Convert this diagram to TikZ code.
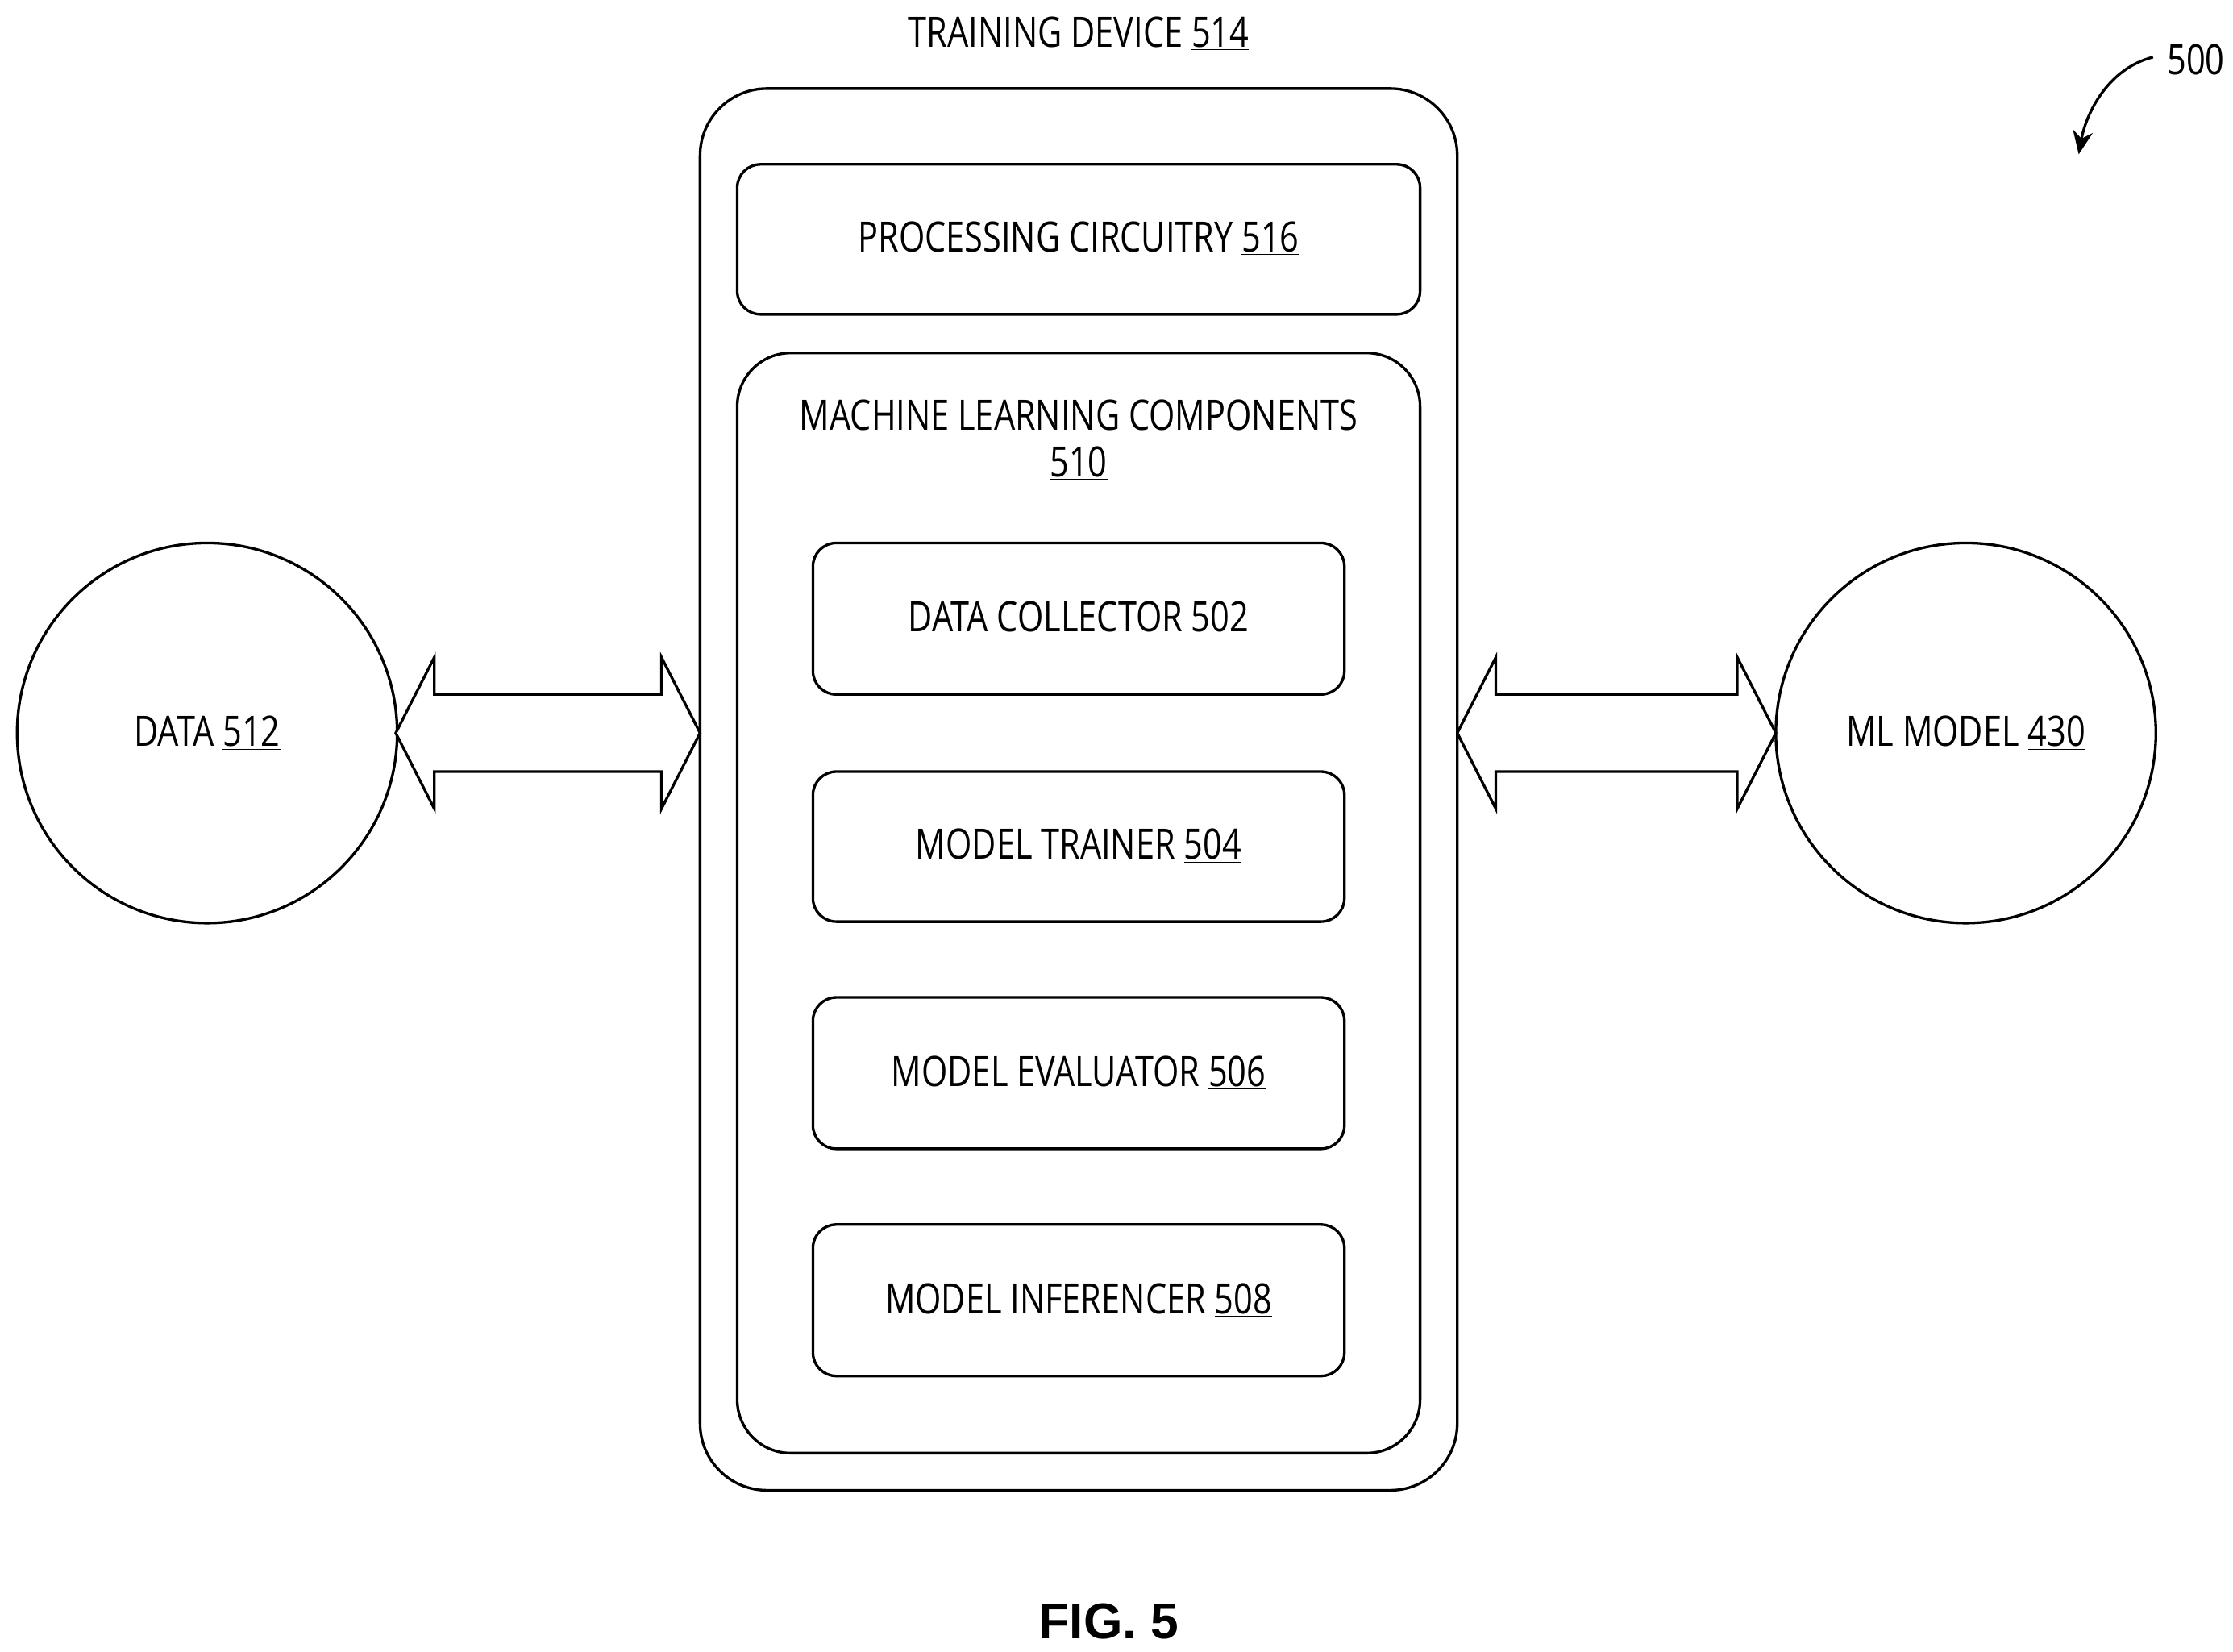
\documentclass[tikz,border=0pt]{standalone}
\usetikzlibrary{arrows.meta}
\usepackage{fontspec}
\setmainfont{Open Sans}[FakeStretch=0.8]
\newfontfamily\figfont{Liberation Sans}
\begin{document}
\begin{tikzpicture}[x=0.03cm,y=-0.03cm,
  every node/.style={font=\fontsize{25}{30}\selectfont},
  box/.style={draw,line width=1.6pt,rounded corners=14pt},
  circ/.style={draw,line width=1.6pt,circle,minimum size=266*0.03cm,inner sep=0pt},
  dbl/.style={draw,line width=1.6pt,fill=white}]
\useasboundingbox (0,0) rectangle (1563,1156);
\draw[line width=1.6pt,rounded corners=40pt] (490,62) rectangle (1020,1043);
\node[anchor=base] (td) at (755,33) {TRAINING DEVICE \underline{514}};
\draw[box] (516,115) rectangle (994,220);
\node (pc) at (755,167) {PROCESSING CIRCUITRY \underline{516}};
\draw[line width=1.6pt,rounded corners=32pt] (516,247) rectangle (994,1017);
\node[align=center] (mlc) at (755,308) {MACHINE LEARNING COMPONENTS\\[-2pt]\underline{510}};
\draw[box] (569,380) rectangle (941,486);
\node (dc) at (755,433) {DATA COLLECTOR \underline{502}};
\draw[box] (569,540) rectangle (941,645);
\node (mt) at (755,592) {MODEL TRAINER \underline{504}};
\draw[box] (569,698) rectangle (941,804);
\node (me) at (755,751) {MODEL EVALUATOR \underline{506}};
\draw[box] (569,857) rectangle (941,963);
\node (mi) at (755,910) {MODEL INFERENCER \underline{508}};
\node[circ] (data) at (145,513) {DATA \underline{512}};
\node[circ] (ml) at (1376,513) {ML MODEL \underline{430}};
\draw[dbl] (277,513) -- (304,460) -- (304,486) -- (463,486) -- (463,460) -- (490,513)
  -- (463,566) -- (463,540) -- (304,540) -- (304,566) -- cycle;
\draw[dbl] (1020,513) -- (1047,460) -- (1047,486) -- (1216,486) -- (1216,460) -- (1243,513)
  -- (1216,566) -- (1216,540) -- (1047,540) -- (1047,566) -- cycle;
\node (n500) at (1537,42) {500};
\coordinate (a0) at (1507,40);
\draw[line width=1.6pt,-{Stealth[length=14pt,width=12pt]}] (a0) .. controls (1475,48) and (1460,80) .. (1455,108);
\node[font=\figfont\bfseries\fontsize{30}{36}\selectfont] (fig) at (776,1135) {FIG. 5};
\end{tikzpicture}
\end{document}
